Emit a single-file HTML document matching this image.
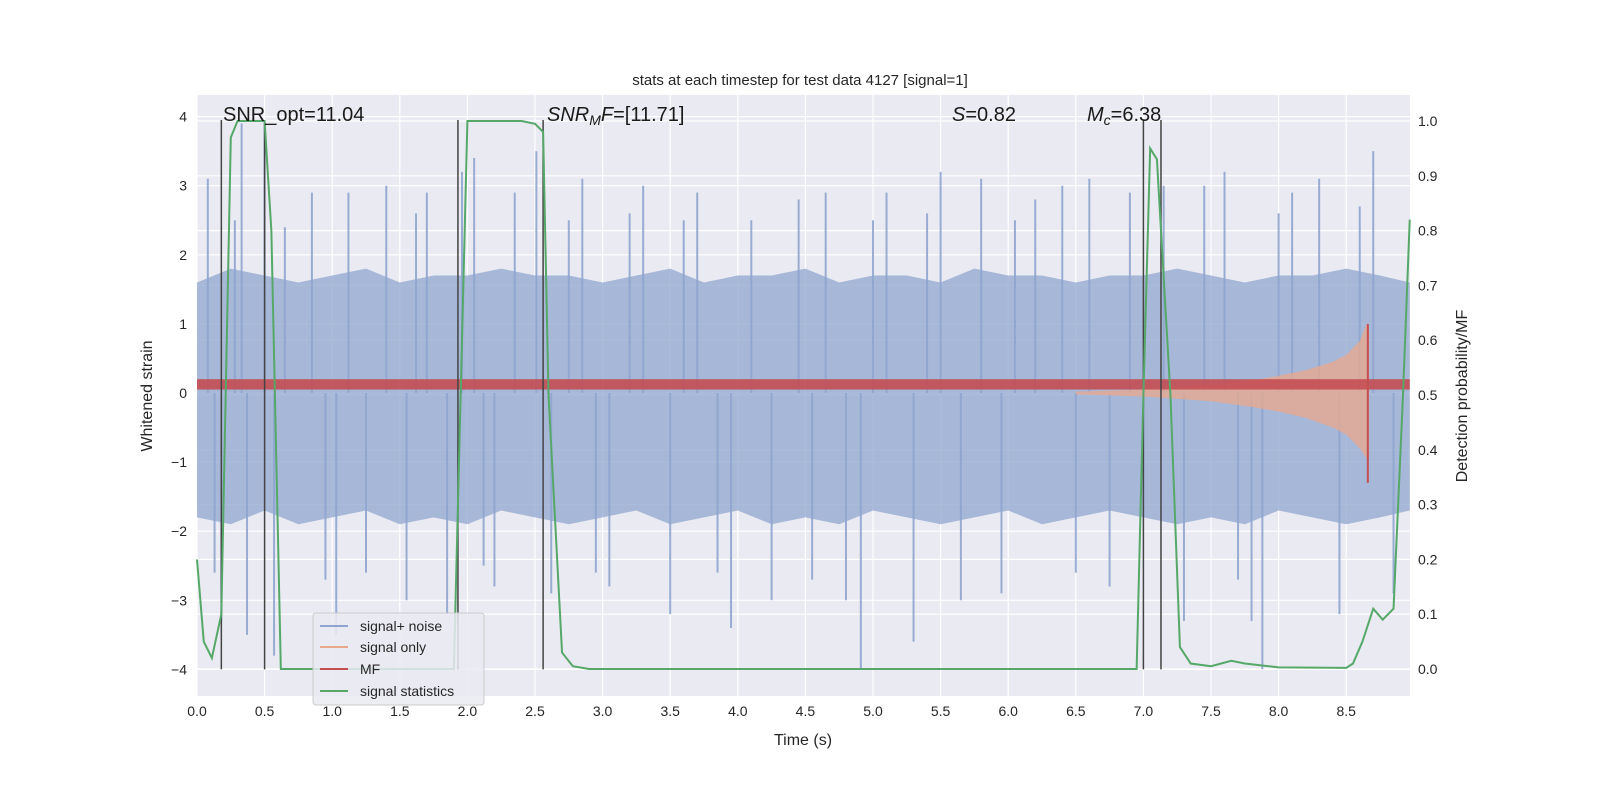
<!DOCTYPE html>
<html><head><meta charset="utf-8"><style>
html,body{margin:0;padding:0;background:#fff;overflow:hidden;width:1600px;height:800px}
svg{font-family:"Liberation Sans","DejaVu Sans",sans-serif;display:block}
</style></head><body>
<svg id="c" width="1600" height="800" style="position:absolute;left:0;top:0" xmlns="http://www.w3.org/2000/svg"></svg>
<script>
// ---- data ----
const envT=[0,0.25,0.5,0.75,1,1.25,1.5,1.75,2,2.25,2.5,2.75,3,3.25,3.5,3.75,4,4.25,4.5,4.75,5,5.25,5.5,5.75,6,6.25,6.5,6.75,7,7.25,7.5,7.75,8,8.25,8.5,8.75,8.97];
const envUpper=[1.6,1.8,1.7,1.6,1.7,1.8,1.6,1.7,1.7,1.8,1.7,1.7,1.6,1.7,1.8,1.6,1.7,1.7,1.8,1.6,1.7,1.7,1.6,1.8,1.7,1.7,1.6,1.7,1.7,1.8,1.7,1.6,1.7,1.7,1.8,1.7,1.6];
const envLower=[-1.8,-1.9,-1.7,-1.9,-1.8,-1.7,-1.9,-1.8,-1.9,-1.7,-1.8,-1.9,-1.8,-1.7,-1.9,-1.8,-1.7,-1.9,-1.8,-1.9,-1.7,-1.8,-1.9,-1.8,-1.7,-1.9,-1.8,-1.7,-1.8,-1.9,-1.8,-1.9,-1.7,-1.8,-1.9,-1.8,-1.7];
const spikeT=[0.08,0.13,0.18,0.28,0.33,0.37,0.5,0.57,0.65,0.85,0.95,1.03,1.12,1.25,1.4,1.55,1.62,1.7,1.85,1.96,2.05,2.12,2.2,2.35,2.51,2.62,2.75,2.85,2.95,3.05,3.2,3.3,3.5,3.6,3.7,3.85,3.95,4.1,4.25,4.45,4.55,4.65,4.8,4.91,5.0,5.1,5.3,5.4,5.5,5.65,5.8,5.95,6.05,6.2,6.4,6.5,6.6,6.75,6.9,7.15,7.3,7.45,7.6,7.7,7.8,7.88,8.0,8.1,8.3,8.45,8.6,8.7,8.85];
const spikeV=[3.1,-2.6,-3.3,2.5,3.9,-3.5,3.9,-3.8,2.4,2.9,-2.7,-3.5,2.9,-2.6,3.0,-3.0,2.6,2.9,-3.2,3.2,3.4,-2.5,-2.8,2.9,3.5,-2.9,2.5,3.1,-2.6,-2.8,2.6,3.0,-3.2,2.5,2.9,-2.6,-3.4,2.5,-3.0,2.8,-2.7,2.9,-3.0,-4.0,2.5,2.9,-3.6,2.6,3.2,-3.0,3.1,-2.9,2.5,2.8,3.0,-2.6,3.1,-2.8,2.9,3.0,-3.3,3.0,3.2,-2.7,-3.3,-4.0,2.6,2.9,3.1,-3.2,2.7,3.5,-2.9];
const statT=[0,0.05,0.11,0.18,0.25,0.3,0.5,0.55,0.62,0.7,1.9,1.95,2.0,2.4,2.5,2.56,2.6,2.7,2.78,2.9,6.95,7.0,7.05,7.1,7.2,7.27,7.35,7.5,7.65,7.75,8.0,8.5,8.55,8.62,8.7,8.77,8.85,8.92,8.97];
const statV=[0.2,0.05,0.02,0.1,0.97,1.0,1.0,0.8,0.0,0.0,0.0,0.5,1.0,1.0,0.995,0.98,0.5,0.03,0.005,0.0,0.0,0.5,0.95,0.93,0.5,0.04,0.01,0.005,0.015,0.01,0.003,0.002,0.01,0.05,0.11,0.09,0.11,0.5,0.82];
const chirpT=[6.5,7.0,7.5,7.8,8.0,8.2,8.4,8.5,8.6,8.65,8.67];
const chirpUp=[0.02,0.05,0.12,0.18,0.25,0.33,0.45,0.55,0.75,1.0,0.9];
const chirpLo=[-0.02,-0.05,-0.12,-0.2,-0.27,-0.36,-0.5,-0.6,-0.8,-0.95,-0.9];
const vlines=[0.18,0.5,1.93,2.56,7.0,7.13];
const xTicks=[0,0.5,1,1.5,2,2.5,3,3.5,4,4.5,5,5.5,6,6.5,7,7.5,8,8.5];
const yTicks=[-4,-3,-2,-1,0,1,2,3,4];
const rTicks=[0,0.1,0.2,0.3,0.4,0.5,0.6,0.7,0.8,0.9,1.0];
// ---- scales ----
const X=t=>197+t*135.2, Y=v=>393-v*69.1, R=p=>669-p*548;
const NS="http://www.w3.org/2000/svg", svg=document.getElementById('c');
function mk(tag,a,parent){const e=document.createElementNS(NS,tag);for(const k in a)e.setAttribute(k,a[k]);(parent||svg).appendChild(e);return e;}
mk('rect',{x:197,y:95,width:1213,height:601,fill:'#eaeaf2'});
xTicks.forEach(t=>{const l=mk('line',{x1:X(t),x2:X(t),y1:95,y2:696,stroke:'#fff','stroke-width':1.2});
 const tx=mk('text',{x:X(t),y:716,'text-anchor':'middle','font-size':14,fill:'#262626'});tx.textContent=t.toFixed(1);});
yTicks.forEach(v=>{mk('line',{x1:197,x2:1410,y1:Y(v),y2:Y(v),stroke:'#fff','stroke-width':1.2});
 const tx=mk('text',{x:187,y:Y(v)+5,'text-anchor':'end','font-size':14,fill:'#262626'});tx.textContent=(v<0?'\u2212'+(-v):v);});
rTicks.forEach(p=>{mk('line',{x1:197,x2:1410,y1:R(p),y2:R(p),stroke:'#fff','stroke-width':1.2});
 const tx=mk('text',{x:1418,y:R(p)+5,'font-size':14,fill:'#262626'});tx.textContent=p.toFixed(1);});
// noise band
let d='M'+envT.map((t,i)=>X(t)+','+Y(envUpper[i])).join('L')+'L'+envT.slice().reverse().map((t,i)=>X(t)+','+Y(envLower[envT.length-1-i])).join('L')+'Z';
let e=mk('path',{d:d,fill:'#8fa5cf','fill-opacity':0.75});
spikeT.forEach((t,i)=>{const l=mk('line',{x1:X(t),x2:X(t),y1:Y(0),y2:Y(spikeV[i]),stroke:'#8fa5cf','stroke-width':2,'stroke-opacity':0.9});});
// chirp
d='M'+chirpT.map((t,i)=>X(t)+','+Y(chirpUp[i])).join('L')+'L'+chirpT.slice().reverse().map((t,i)=>X(t)+','+Y(chirpLo[chirpT.length-1-i])).join('L')+'Z';
e=mk('path',{d:d,fill:'#e9a88c','fill-opacity':0.75});
// MF band
e=mk('rect',{x:X(0),y:Y(0.2),width:X(8.97)-X(0),height:Y(0.05)-Y(0.2),fill:'#c44e52','fill-opacity':0.9});
mk('line',{x1:X(8.66),x2:X(8.66),y1:Y(1.0),y2:Y(-1.3),stroke:'#c44e52','stroke-width':2});
vlines.forEach(t=>{const l=mk('line',{x1:X(t),x2:X(t),y1:Y(-4),y2:Y(3.95),stroke:'#444','stroke-width':1.5});});
e=mk('polyline',{points:statT.map((t,i)=>X(t)+','+R(statV[i])).join(' '),fill:'none',stroke:'#55a868','stroke-width':2});
</script>
<svg width="1600" height="800" style="position:absolute;left:0;top:0" xmlns="http://www.w3.org/2000/svg">
<text x="800" y="85" text-anchor="middle" font-size="15" fill="#262626" font-family="Liberation Sans,sans-serif">stats at each timestep for test data 4127 [signal=1]</text>
<text x="803" y="745" text-anchor="middle" font-size="16" fill="#262626" font-family="Liberation Sans,sans-serif">Time (s)</text>
<text transform="translate(152,396) rotate(-90)" text-anchor="middle" font-size="16" fill="#262626" font-family="Liberation Sans,sans-serif">Whitened strain</text>
<text transform="translate(1467,396) rotate(-90)" text-anchor="middle" font-size="16" fill="#262626" font-family="Liberation Sans,sans-serif">Detection probability/MF</text>
<g font-size="20" fill="#1a1a1a" font-family="Liberation Sans,sans-serif">
<text x="223" y="121">SNR_opt=11.04</text>
<text x="547" y="121"><tspan font-style="italic">SNR</tspan><tspan font-style="italic" font-size="14" dy="4">M</tspan><tspan font-style="italic" dy="-4">F</tspan>=[11.71]</text>
<text x="952" y="121"><tspan font-style="italic">S</tspan>=0.82</text>
<text x="1087" y="121"><tspan font-style="italic">M</tspan><tspan font-style="italic" font-size="14" dy="4">c</tspan><tspan dy="-4">=6.38</tspan></text>
</g>
<g font-family="Liberation Sans,sans-serif" font-size="14" fill="#262626">
<rect x="313" y="613" width="171" height="92" rx="3" fill="#eaeaf2" fill-opacity="0.85" stroke="#ccc"/>
<line x1="320" x2="348" y1="626" y2="626" stroke="#8fa5cf" stroke-width="2"/><text x="360" y="631">signal+ noise</text>
<line x1="320" x2="348" y1="647" y2="647" stroke="#e9a88c" stroke-width="2"/><text x="360" y="652">signal only</text>
<line x1="320" x2="348" y1="669" y2="669" stroke="#c44e52" stroke-width="2"/><text x="360" y="674">MF</text>
<line x1="320" x2="348" y1="691" y2="691" stroke="#55a868" stroke-width="2"/><text x="360" y="696">signal statistics</text>
</g>
</svg>
</body></html>
